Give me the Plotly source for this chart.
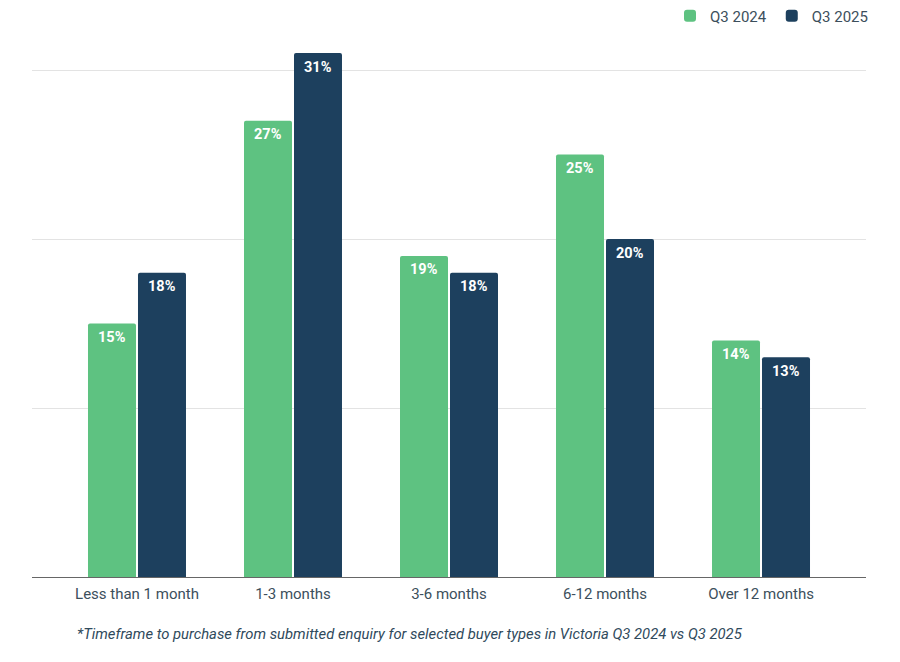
import plotly.graph_objects as go

categories = ["Less than 1 month", "1-3 months", "3-6 months", "6-12 months", "Over 12 months"]
q3_2024 = [15, 27, 19, 25, 14]
q3_2025 = [18, 31, 18, 20, 13]
series_names = ["Q3 2024", "Q3 2025"]
footnote = "*Timeframe to purchase from submitted enquiry for selected buyer types in Victoria Q3 2024 vs Q3 2025"

GREEN = "#5EC281"
NAVY = "#1D405E"
FONT = "Roboto"

fig = go.Figure()
series = [(series_names[0], q3_2024, GREEN), (series_names[1], q3_2025, NAVY)]
for name, vals, col in series:
    fig.add_trace(go.Bar(
        x=list(range(len(categories))), y=vals, name=name,
        marker=dict(color=col, cornerradius=2, line=dict(width=0)),
        hoverinfo="skip",
    ))

# value labels inside the bar tops
annotations = []
for si, (name, vals, col) in enumerate(series):
    xs = -25 if si == 0 else 25
    for i, v in enumerate(vals):
        annotations.append(dict(x=i, y=v, xref="x", yref="y", text=f"<b>{v}%</b>",
                                showarrow=False, xshift=xs, yshift=-14, yanchor="middle",
                                font=dict(color="white", size=14.5, family=FONT)))

# page body has an 8px margin: figure is offset by 8px right/down
OFF = 8
W, H = 900 - OFF, 662 - OFF
top = 40 - OFF
baseline = 577 - OFF
bottom = H - baseline
plot_h = baseline - top
px_per = 16.9
annotations.append(dict(text=footnote, xref="paper", yref="paper",
                        x=(75 - 32) / 834, y=-(634 - 577) / plot_h, xanchor="left", yanchor="middle",
                        showarrow=False, font=dict(size=14.8, color="#2F4A5C", family=FONT, style="italic")))
fig.update_layout(
    width=W, height=H,
    margin=dict(l=32 - OFF, r=W - (866 - OFF), t=top, b=bottom, autoexpand=False),
    paper_bgcolor="white", plot_bgcolor="white",
    barmode="group", bargap=0.359, bargroupgap=0.04,
    font=dict(family=FONT, color="#3C4F5C"),
    showlegend=True,
    legend=dict(orientation="h", x=1 + 7 / 834, xanchor="right", y=1 + (40 - 16) / plot_h, yanchor="middle",
                font=dict(size=15, color="#3C4F5C"), bgcolor="rgba(0,0,0,0)",
                itemwidth=30, traceorder="normal"),
    xaxis=dict(tickmode="array", tickvals=list(range(len(categories))), ticktext=categories,
               range=[-0.673, 4.673], showgrid=False, zeroline=False,
               showline=True, linecolor="#666666", linewidth=1, ticklabelstandoff=3,
               tickfont=dict(size=15, color="#3C4F5C"), ticks="", fixedrange=True),
    yaxis=dict(range=[0, plot_h / px_per], dtick=10, showticklabels=False,
               showgrid=True, gridcolor="#E3E3E3", gridwidth=1, zeroline=False, fixedrange=True),
    annotations=annotations,
)
fig.write_html("out.html")
